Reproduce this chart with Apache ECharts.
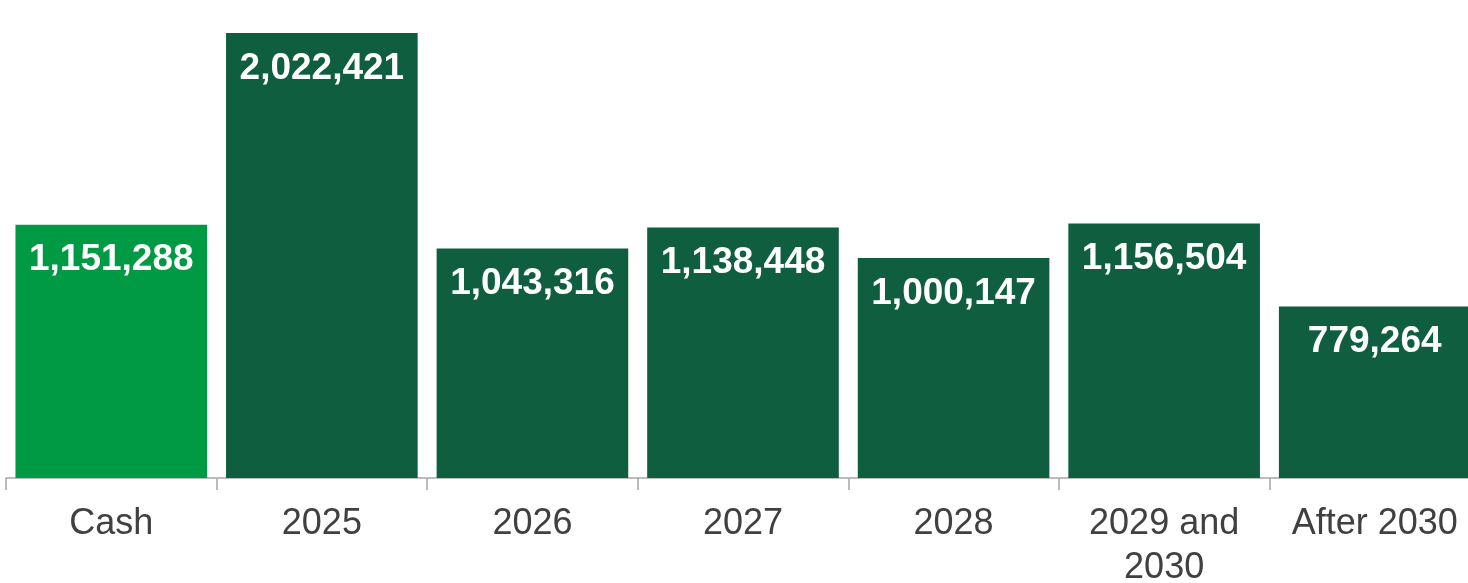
<!DOCTYPE html>
<html>
<head>
<meta charset="utf-8">
<script src="https://cdn.jsdelivr.net/npm/echarts@6/dist/echarts.min.js"></script>
<style>
html,body{margin:0;padding:0;background:#fff;}
#c{width:1468px;height:583px;}
</style>
</head>
<body>
<div id="c"></div>
<script>
const categories = ['Cash', '2025', '2026', '2027', '2028', '2029 and 2030', 'After 2030'];
const values = [1151288, 2022421, 1043316, 1138448, 1000147, 1156504, 779264];
const barColors = ['#009A44', '#0E5E3F', '#0E5E3F', '#0E5E3F', '#0E5E3F', '#0E5E3F', '#0E5E3F'];

const FONT = 'Arial, "Liberation Sans", sans-serif';
const chart = echarts.init(document.getElementById('c'));
chart.setOption({
  animation: false,
  grid: { left: 6, width: 1474, top: 33, height: 445, containLabel: false, outerBoundsMode: 'none' },
  xAxis: {
    type: 'category',
    data: categories,
    axisLine: { lineStyle: { color: '#A6A6A6', width: 1.5 } },
    axisTick: { show: true, length: 12, lineStyle: { color: '#A6A6A6', width: 1.5 } },
    axisLabel: {
      interval: 0,
      margin: 24,
      fontFamily: FONT,
      fontSize: 36,
      lineHeight: 44,
      color: '#404040',
      formatter: v => v.replace(' and ', ' and\n')
    }
  },
  yAxis: {
    type: 'value',
    min: 0,
    max: 'dataMax',
    show: false,
    splitLine: { show: false }
  },
  series: [{
    type: 'bar',
    barCategoryGap: '9%',
    data: values.map((v, i) => ({ value: v, itemStyle: { color: barColors[i] } })),
    label: {
      show: true,
      position: 'insideTop',
      distance: 17,
      color: '#FFFFFF',
      fontFamily: FONT,
      fontWeight: 'bold',
      fontSize: 37,
      formatter: p => p.value.toLocaleString('en-US')
    }
  }]
});
</script>
</body>
</html>
